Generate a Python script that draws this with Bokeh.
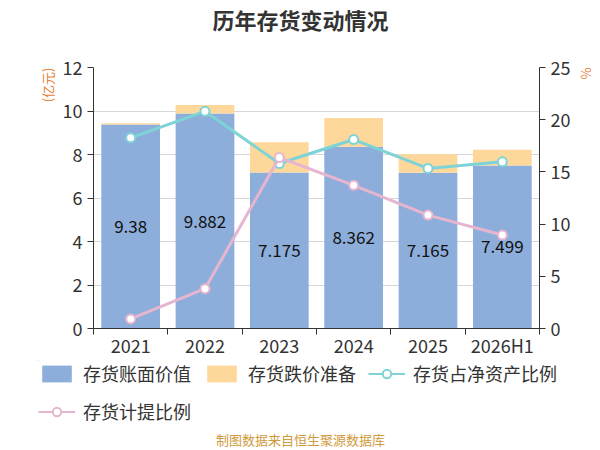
from bokeh.plotting import figure
from bokeh.layouts import column
from bokeh.models import (ColumnDataSource, Range1d, LinearAxis, FixedTicker,
                          Legend, LegendItem, Title, Label)
from bokeh.core.properties import value
from bokeh.embed import file_html
from bokeh.resources import INLINE

# ---- data ----
years = ["2021", "2022", "2023", "2024", "2025", "2026H1"]
book_value = [9.38, 9.882, 7.175, 8.362, 7.165, 7.499]          # 存货账面价值 (亿元)
impairment = [0.06, 0.39, 1.39, 1.32, 0.85, 0.72]               # 存货跌价准备 (亿元)
net_asset_ratio = [18.26, 20.8, 15.8, 18.1, 15.33, 15.97]       # 存货占净资产比例 (%)
provision_ratio = [0.92, 3.81, 16.38, 13.71, 10.86, 8.95]       # 存货计提比例 (%)
book_labels = ["9.38", "9.882", "7.175", "8.362", "7.165", "7.499"]
left_ticks = [0, 2, 4, 6, 8, 10, 12]
right_ticks = [0, 5, 10, 15, 20, 25]
series_names = ["存货账面价值", "存货跌价准备", "存货占净资产比例", "存货计提比例"]
series_colors = ["#8DAEDB", "#FED89A", "#7ED3D6", "#E6B5D0"]

FONT = "Noto Sans CJK SC"
W = 600
HEAD_H, MAIN_H, LEG_H = 40, 320, 90
FL, FR, FT, FB = 93, 543, 67, 330   # frame edges (page px)
YMAX, PMAX = 12, 25
N = len(years)

# ---------------- header (title) ----------------
head = figure(width=W, height=HEAD_H, x_range=Range1d(0, W), y_range=Range1d(HEAD_H, 0),
              x_axis_type=None, y_axis_type=None, output_backend="svg",
              toolbar_location=None, min_border=0, frame_align=False)
head.outline_line_color = None
head.add_layout(Label(x=W / 2, y=18, text="历年存货变动情况", text_align="center",
                      text_baseline="middle", text_font=FONT, text_font_size="22px",
                      text_font_style="bold", text_color="#333333"))

# ---------------- main chart ----------------
xs = [i + 0.5 for i in range(N)]
src = ColumnDataSource(dict(
    x=xs, year=years, book=book_value, imp=impairment,
    nar=net_asset_ratio, pr=provision_ratio,
    lab=book_labels, laby=[v / 2 for v in book_value],
))

p = figure(width=W, height=MAIN_H, x_range=Range1d(0, N), y_range=Range1d(0, YMAX),
           output_backend="svg", toolbar_location=None, frame_align=False,
           min_border_left=FL, min_border_right=W - FR,
           min_border_top=FT - HEAD_H, min_border_bottom=HEAD_H + MAIN_H - FB)
p.outline_line_color = None

p.xaxis.ticker = FixedTicker(ticks=xs, minor_ticks=list(range(N + 1)))
p.xaxis.major_label_overrides = {x: y for x, y in zip(xs, years)}
p.xaxis.major_tick_out = 0
p.xaxis.major_tick_in = 0
p.xaxis.minor_tick_out = 6
p.xaxis.minor_tick_in = 0
p.xaxis.minor_tick_line_color = "#333333"
p.xaxis.major_label_standoff = -3
p.xgrid.visible = False

p.yaxis.ticker = FixedTicker(ticks=left_ticks)
p.ygrid.ticker = FixedTicker(ticks=left_ticks)
p.ygrid.grid_line_color = "#d6d6d6"
p.yaxis.minor_tick_line_color = None
p.yaxis.major_tick_out = 6
p.yaxis.major_tick_in = 0

p.extra_y_ranges = {"pct": Range1d(0, PMAX)}
rax = LinearAxis(y_range_name="pct", ticker=FixedTicker(ticks=right_ticks))
rax.minor_tick_line_color = None
rax.major_tick_out = 6
rax.major_tick_in = 0
p.add_layout(rax, "right")

for ax in [p.xaxis[0], p.yaxis[0], rax]:
    ax.axis_line_color = "#333333"
    ax.major_tick_line_color = "#333333"
    ax.major_label_text_font = FONT
    ax.major_label_text_font_size = "18px"
    ax.major_label_text_color = "#333333"

p.vbar_stack(["book", "imp"], x="x", width=0.79, source=src,
             color=series_colors[:2], line_color=None)
p.line("x", "nar", source=src, y_range_name="pct", line_color=series_colors[2], line_width=3)
p.scatter("x", "nar", source=src, y_range_name="pct", size=9, fill_color="white",
          line_color=series_colors[2], line_width=2)
p.line("x", "pr", source=src, y_range_name="pct", line_color=series_colors[3], line_width=3)
p.scatter("x", "pr", source=src, y_range_name="pct", size=9, fill_color="white",
          line_color=series_colors[3], line_width=2)

p.text("x", "laby", text="lab", source=src, text_align="center", text_baseline="middle",
       text_font=value(FONT), text_font_size="17px", text_color="#111111")

p.add_layout(Title(text="(亿元)", align="right", standoff=6,
                   text_font=FONT, text_font_size="13px", text_font_style="normal",
                   text_color="#E8803A"), "left")
p.add_layout(Title(text="%", align="left", standoff=6,
                   text_font=FONT, text_font_size="13px", text_font_style="normal",
                   text_color="#E8803A"), "right")

# ---------------- legend + source ----------------
top = HEAD_H + MAIN_H
LEG_X = 38
leg = figure(width=W, height=LEG_H, x_range=Range1d(LEG_X, W), y_range=Range1d(top + LEG_H, top),
             x_axis_type=None, y_axis_type=None, output_backend="svg",
             toolbar_location=None, min_border=0, min_border_left=LEG_X, frame_align=False)
leg.outline_line_color = None
# legend-only renderers (same data, they fall outside this panel's ranges)
lb = leg.vbar(x="x", top="book", width=0.79, source=src, color=series_colors[0], line_color=None)
lo = leg.vbar(x="x", top="imp", width=0.79, source=src, color=series_colors[1], line_color=None)
lc1 = leg.line("x", "nar", source=src, line_color=series_colors[2], line_width=2)
lc2 = leg.scatter("x", "nar", source=src, size=15, fill_color="white",
                  line_color=series_colors[2], line_width=2)
lp1 = leg.line("x", "pr", source=src, line_color=series_colors[3], line_width=2)
lp2 = leg.scatter("x", "pr", source=src, size=15, fill_color="white",
                  line_color=series_colors[3], line_width=2)

legend = Legend(items=[
    LegendItem(label=series_names[0], renderers=[lb]),
    LegendItem(label=series_names[1], renderers=[lo]),
    LegendItem(label=series_names[2], renderers=[lc1, lc2]),
    LegendItem(label=series_names[3], renderers=[lp1, lp2]),
], orientation="horizontal", ncols=3, location="top_left",
    label_text_font=FONT, label_text_font_size="18px", label_text_color="#333333",
    glyph_width=37, glyph_height=21, label_standoff=8, spacing=12,
    padding=0, margin=0, border_line_color=None, background_fill_alpha=0)
leg.add_layout(legend, "center")

leg.add_layout(Label(x=W / 2, y=439, text="制图数据来自恒生聚源数据库", text_align="center",
                     text_baseline="middle", text_font=FONT, text_font_size="13px",
                     text_color="#D09A3C"))

layout = column(head, p, leg, spacing=0)
open("out.html", "w").write(file_html(layout, INLINE))
